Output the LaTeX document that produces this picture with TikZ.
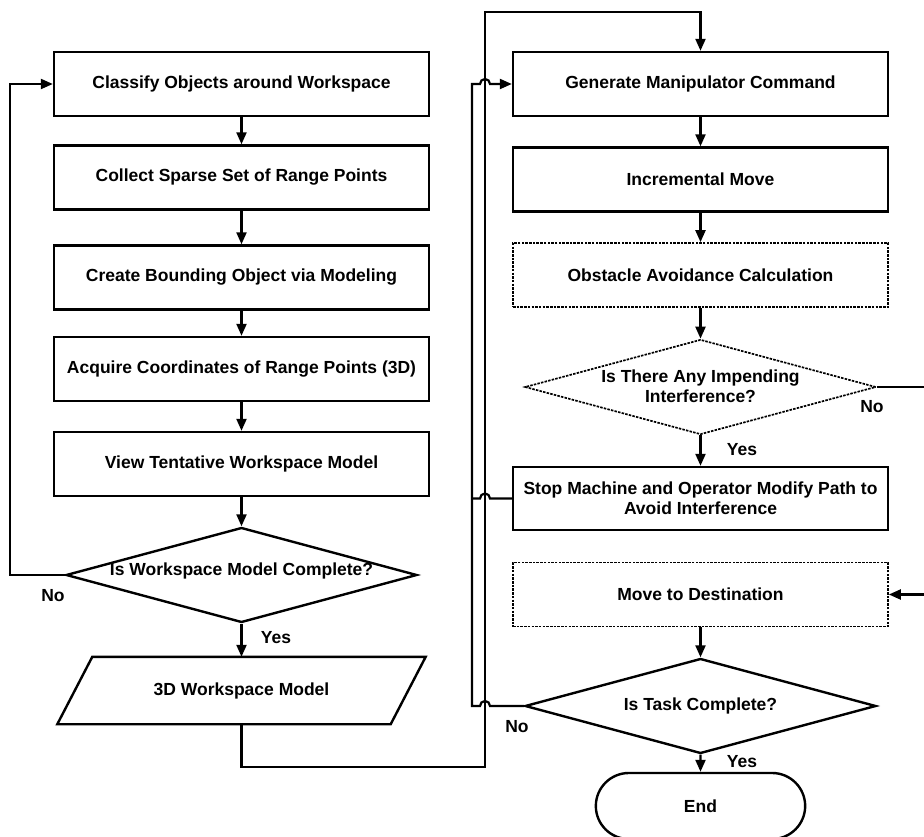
\documentclass[tikz,border=0pt]{standalone}
\usepackage{fontspec}
\setmainfont{Liberation Sans}
\usetikzlibrary{shapes.geometric,shapes.misc,arrows.meta,calc}

\begin{document}
\begin{tikzpicture}[x=1pt, y=-1pt,
  font=\fontsize{17.5}{20}\selectfont\bfseries,
  proc/.style={draw, line width=2.4pt, minimum width=375pt, minimum height=64pt, inner sep=2pt, align=center},
  procdot/.style={proc, line width=1.7pt, dash pattern=on 2.5pt off 1.2pt},
  decide/.style={draw, diamond, line width=2.4pt, minimum width=351pt, minimum height=95pt, inner sep=0pt},
  decidedot/.style={decide, line width=1.7pt, dash pattern=on 2.5pt off 1.2pt},
  datashape/.style={minimum width=333pt, minimum height=67pt, inner sep=0pt},
  terminal/.style={draw, rounded rectangle, line width=2.4pt, minimum width=216pt, minimum height=66pt},
  flow/.style={line width=2.2pt, -{Triangle[length=12pt,width=10pt]}},
  link/.style={line width=2.2pt}]

  \useasboundingbox (0,0) rectangle (924,837);
  \clip (0,0) rectangle (924,837);

  % left column
  \def\xl{241.5};
  \node[proc] (classify) at (\xl,84) {Classify Objects around Workspace};
  \node[proc] (collect) at (\xl,177.5) {Collect Sparse Set of Range Points};
  \node[proc] (create) at (\xl,277.5) {Create Bounding Object via Modeling};
  \node[proc] (acquire) at (\xl,369) {Acquire Coordinates of Range Points (3D)};
  \node[proc] (view) at (\xl,464) {View Tentative Workspace Model};
  \node[decide] (wscomplete) at (\xl,575) {};
  \node (wstext) at (\xl,571) {Is Workspace Model Complete?};
  \node[datashape] (wsmodel) at (\xl,690.5) {3D Workspace Model};
  \def\sl{17.5};
  \draw[line width=2.4pt, line join=miter]
    ($(wsmodel.north west)+(\sl,0)$) -- ($(wsmodel.north east)+(\sl,0)$)
    -- ($(wsmodel.south east)+(-\sl,0)$) -- ($(wsmodel.south west)+(-\sl,0)$) -- cycle;
  \node (no1) at (53,596) {No};
  \node (yes1) at (276,638) {Yes};

  % right column
  \def\xr{700.5};
  \node[proc] (generate) at (\xr,84) {Generate Manipulator Command};
  \node[proc] (incmove) at (\xr,179.5) {Incremental Move};
  \node[procdot] (obstacle) at (\xr,275) {Obstacle Avoidance Calculation};
  \node[decidedot] (interfere) at (\xr,387) {};
  \node[align=center] (intertext) at (\xr,386) {Is There Any Impending\\Interference?};
  \node[proc, minimum height=63pt] (stop) at (\xr,498.5) {Stop Machine and Operator Modify Path to\\Avoid Interference};
  \node[procdot] (dest) at (\xr,594.5) {Move to Destination};
  \node[decide] (task) at (\xr,706) {};
  \node (tasktext) at (\xr,706) {Is Task Complete?};
  \node[terminal] (finish) at (\xr,806) {End};
  \node (no2) at (872,407) {No};
  \node (yes2) at (742,450) {Yes};
  \node (no3) at (517,727) {No};
  \node (yes3) at (742,762) {Yes};

  % bus lines
  \coordinate (bus) at (472,0);
  \coordinate (hopL) at (480,0);
  \coordinate (hopR) at (490,0);
  \coordinate (feedbot) at (485,767);
  \coordinate (feedtop) at (485,12);
  \coordinate (rightbus) at (934,0);

  % left flow
  \draw[flow] (classify) -- (collect);
  \draw[flow] (collect) -- (create);
  \draw[flow] (create) -- (acquire);
  \draw[flow] (acquire) -- (view);
  \draw[flow] (view) -- (wscomplete.north);
  \draw[flow] (wscomplete.south) -- (wsmodel.north);
  \draw[flow] (wscomplete.west) -- ++(-55,0) |- (classify.west);
  \draw[flow] (wsmodel.south) |- (feedbot) -- (feedtop) -| (generate.north);

  % right flow
  \draw[flow] (generate) -- (incmove);
  \draw[flow] (incmove) -- (obstacle);
  \draw[flow] (obstacle) -- (interfere.north);
  \draw[flow] (interfere.south) -- (stop);
  \draw[flow] (interfere.east) -- (interfere.east -| rightbus) |- (dest.east);
  \draw[flow] (dest) -- (task.north);
  \draw[flow] (task.south) -- (finish);
  \draw[link] (stop.west) -- (stop.west -| hopR) arc[start angle=0, end angle=180, radius=5pt] -- (stop.west -| bus);
  \draw[flow] (task.west) -- (task.west -| hopR) arc[start angle=0, end angle=180, radius=5pt] -- (task.west -| bus)
    -- (bus |- generate.west) -- (hopL |- generate.west) arc[start angle=180, end angle=0, radius=5pt] -- (generate.west);

\end{tikzpicture}
\end{document}
